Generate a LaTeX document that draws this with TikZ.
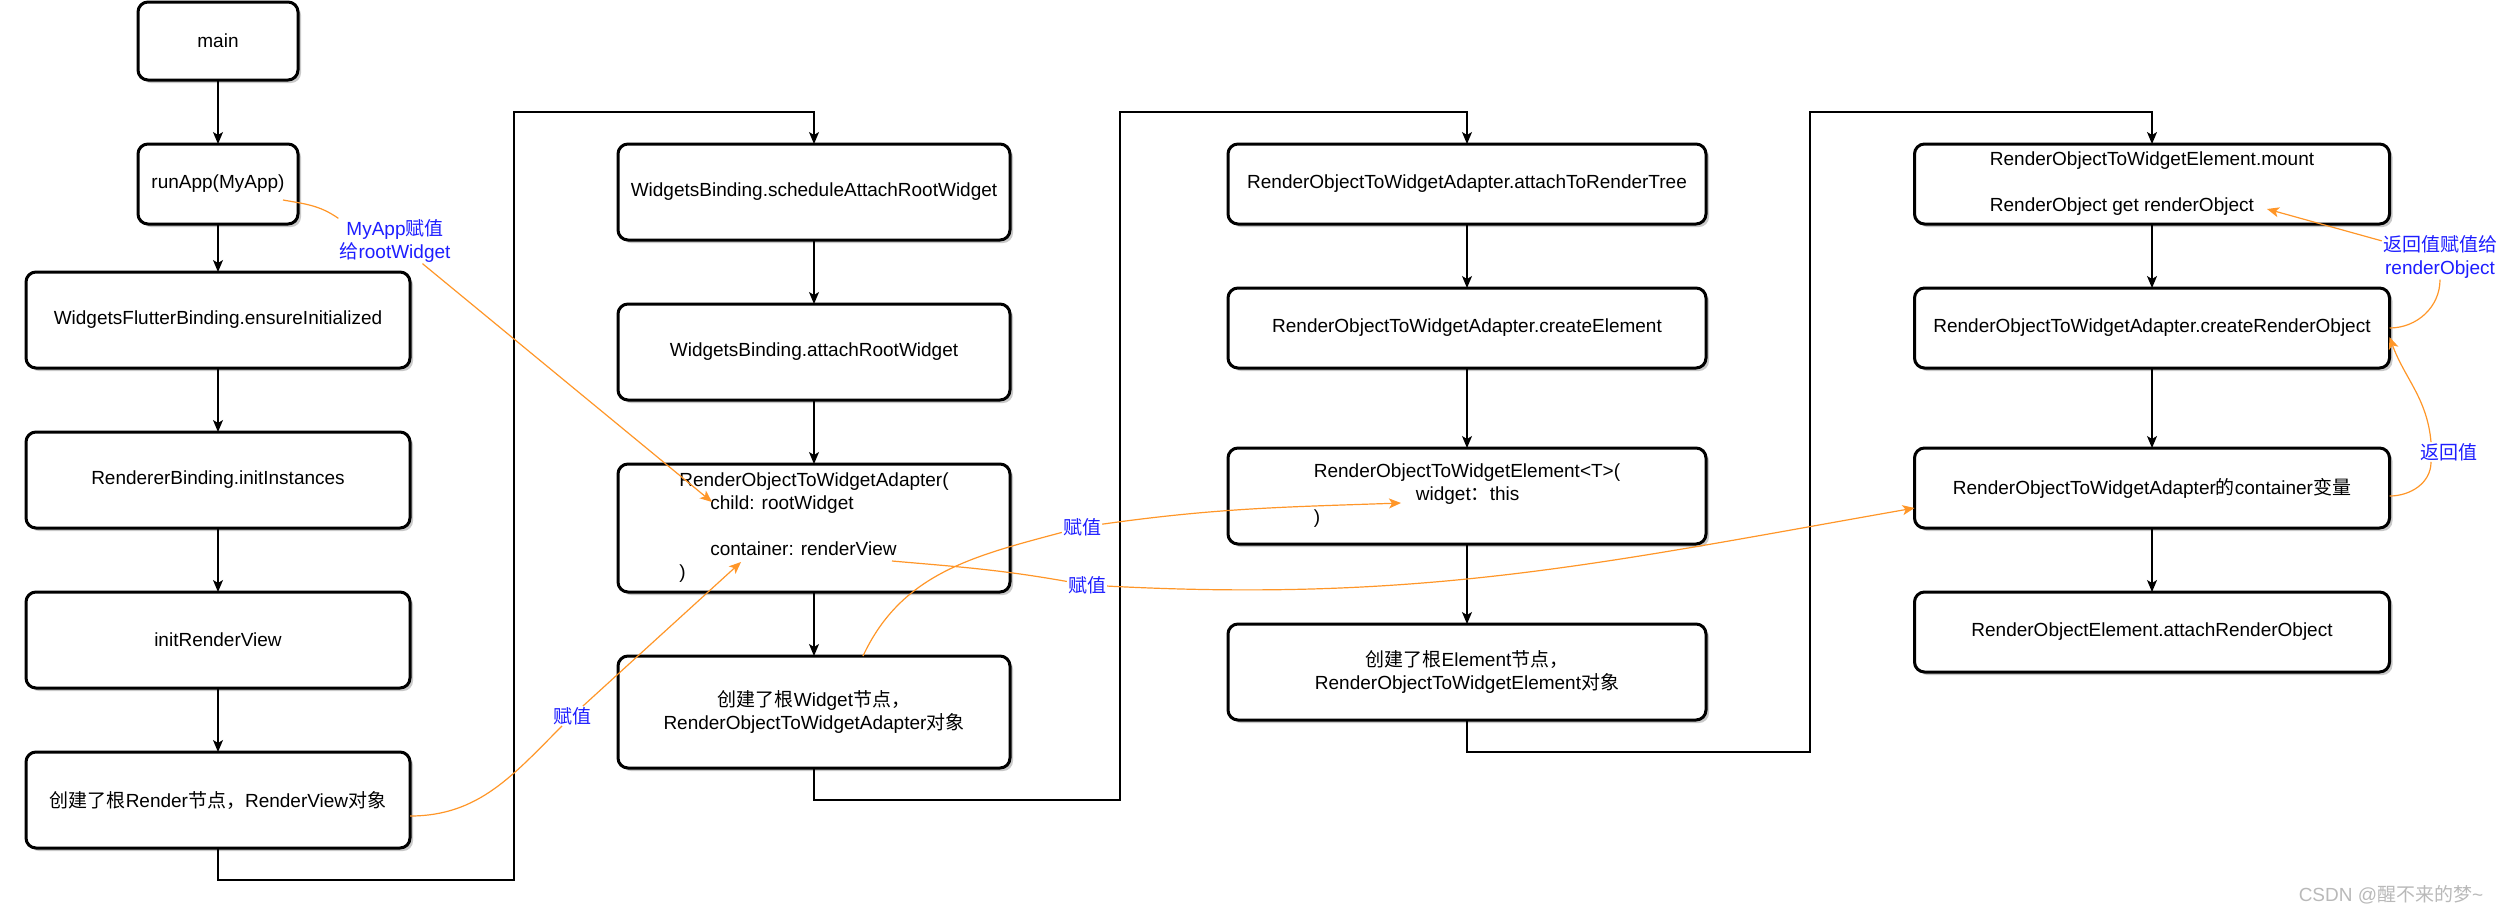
\documentclass[tikz,border=0pt]{standalone}
\usepackage{fontspec}
\setmainfont{Liberation Sans}
\newfontfamily\zh{Noto Sans CJK SC}
\usetikzlibrary{positioning, arrows.meta, shadows}

\definecolor{linkorange}{RGB}{255,150,40}
\definecolor{tagblue}{RGB}{30,30,255}
\newcommand{\boxfont}{\fontsize{19}{23}\selectfont}

\begin{document}
\begin{tikzpicture}[
            x=1pt, y=-1pt,
            block/.style={rectangle, draw, rounded corners=10pt, line width=3pt, fill=white, outer sep=0pt,
                minimum width=384pt, minimum height=96pt,
                drop shadow={shadow xshift=3pt, shadow yshift=-3pt, fill=gray!60, opacity=0.7}},
            flow/.style={-{Stealth[length=12pt, width=10pt, inset=3pt]}, line width=1.2pt},
            assign/.style={draw=linkorange, line width=1.2pt},
            assignto/.style={assign, -{Stealth[length=12pt, width=10pt, inset=3pt]}},
            tag/.style={fill=white, text=tagblue, inner sep=1pt},
            every node/.style={align=center, font=\boxfont}
        ]
        \useasboundingbox (0,0) rectangle (2498,914);

        % Blocks, first column
        \node[block, minimum width=160pt, minimum height=78pt] (main) at (218,41) {main};
        \node[block, minimum width=160pt, minimum height=80pt, below=64pt of main] (runapp) {runApp(MyApp)};
        \node[block, below=48pt of runapp] (ensureinit) {WidgetsFlutterBinding.ensureInitialized};
        \node[block, below=64pt of ensureinit] (initinst) {RendererBinding.initInstances};
        \node[block, below=64pt of initinst] (initview) {initRenderView};
        \node[block, below=64pt of initview] (rendernode) {{\zh 创建了根}Render{\zh 节点，}RenderView{\zh 对象}};

        % second column
        \node[block, minimum width=392pt] (schedule) at (814,192) {WidgetsBinding.scheduleAttachRootWidget};
        \node[block, minimum width=392pt, below=64pt of schedule] (attachroot) {WidgetsBinding.attachRootWidget};
        \node[block, minimum width=392pt, minimum height=128pt, below=64pt of attachroot, align=left] (adapter)
            {RenderObjectToWidgetAdapter(\\\hspace*{31pt}child: rootWidget\\[23pt]\hspace*{31pt}container: renderView\\)};
        \node[block, minimum width=392pt, minimum height=112pt, below=64pt of adapter] (widgetnode)
            {{\zh 创建了根}Widget{\zh 节点，}\\RenderObjectToWidgetAdapter{\zh 对象}};

        % third column
        \node[block, minimum width=478pt, minimum height=80pt] (attachtree) at (1467,184) {RenderObjectToWidgetAdapter.attachToRenderTree};
        \node[block, minimum width=478pt, minimum height=80pt, below=64pt of attachtree] (createelem) {RenderObjectToWidgetAdapter.createElement};
        \node[block, minimum width=478pt, below=80pt of createelem, align=left] (element)
            {RenderObjectToWidgetElement<T>(\\\hspace*{102pt}widget{\zh ：}this\\)};
        \node[block, minimum width=478pt, below=80pt of element] (elemnode)
            {{\zh 创建了根}Element{\zh 节点，}\\RenderObjectToWidgetElement{\zh 对象}};

        % fourth column
        \node[block, minimum width=475pt, minimum height=80pt, align=left] (mount) at (2152,184)
            {RenderObjectToWidgetElement.mount\\[23pt]RenderObject get renderObject};
        \node[block, minimum width=475pt, minimum height=80pt, below=64pt of mount] (createro) {RenderObjectToWidgetAdapter.createRenderObject};
        \node[block, minimum width=475pt, minimum height=80pt, below=80pt of createro] (container) {RenderObjectToWidgetAdapter{\zh 的}container{\zh 变量}};
        \node[block, minimum width=475pt, minimum height=80pt, below=64pt of container] (attachro) {RenderObjectElement.attachRenderObject};

        % turning points between the columns
        \coordinate (turn1) at (514,112);
        \coordinate (turn2) at (1120,112);
        \coordinate (turn3) at (1810,112);

        \draw[flow] (main) -- (runapp);
        \draw[flow] (runapp) -- (ensureinit);
        \draw[flow] (ensureinit) -- (initinst);
        \draw[flow] (initinst) -- (initview);
        \draw[flow] (initview) -- (rendernode);
        \draw[flow] (rendernode.south) -- ++(0,32) -| (turn1) -| (schedule.north);

        \draw[flow] (schedule) -- (attachroot);
        \draw[flow] (attachroot) -- (adapter);
        \draw[flow] (adapter) -- (widgetnode);
        \draw[flow] (widgetnode.south) -- ++(0,32) -| (turn2) -| (attachtree.north);

        \draw[flow] (attachtree) -- (createelem);
        \draw[flow] (createelem) -- (element);
        \draw[flow] (element) -- (elemnode);
        \draw[flow] (elemnode.south) -- ++(0,32) -| (turn3) -| (mount.north);

        \draw[flow] (mount) -- (createro);
        \draw[flow] (createro) -- (container);
        \draw[flow] (container) -- (attachro);

        % assignment labels
        \node[tag] (tag1) at (395,241) {MyApp{\zh 赋值}\\{\zh 给}rootWidget};
        \node[tag] (tag2) at (572,716) {{\zh 赋值}};
        \node[tag] (tag3) at (1082,527) {{\zh 赋值}};
        \node[tag] (tag4) at (1087,585) {{\zh 赋值}};
        \node[tag] (tag5) at (2440,257) {{\zh 返回值赋值给}\\renderObject};
        \node[tag] (tag6) at (2449,452) {{\zh 返回值}};

        % points inside the boxes
        \coordinate (myapp) at (283,200);
        \coordinate (childpt) at (712,502);
        \coordinate (containerpt) at (741,562);
        \coordinate (viewtxt) at (892,561);
        \coordinate (widgetpt) at (1401,503);
        \coordinate (ropt) at (2267,209);

        \draw[assign] (myapp) to[out=-10, in=145] (tag1.north west);
        \draw[assignto] (tag1) -- (childpt);

        \draw[assign] ([yshift=-16pt]rendernode.east) to[out=0, in=-135] (tag2);
        \draw[assignto] (tag2) -- (containerpt);

        \draw[assign] ([xshift=49pt]widgetnode.north) to[out=65, in=-165] (tag3);
        \draw[assignto] (tag3) to[out=8, in=-178] (widgetpt);

        \draw[assign] (viewtxt) to[out=-5, in=170] (tag4);
        \draw[assignto] (tag4) to[out=-3, in=-170] ([yshift=-20pt]container.west);

        \draw[assign] (createro.east) to[out=0, in=-90] (tag5);
        \draw[assignto] (tag5) -- (ropt);

        \draw[assign] ([yshift=-8pt]container.east) to[out=0, in=-90] ([xshift=-18pt]tag6.south);
        \draw[assignto] ([xshift=-18pt]tag6.north) to[out=95, in=-70] ([yshift=-9pt]createro.east);

        \node[text=gray!55] (mark) at (2391,895) {CSDN @{\zh 醒不来的梦}\textasciitilde};
    \end{tikzpicture}
\end{document}
